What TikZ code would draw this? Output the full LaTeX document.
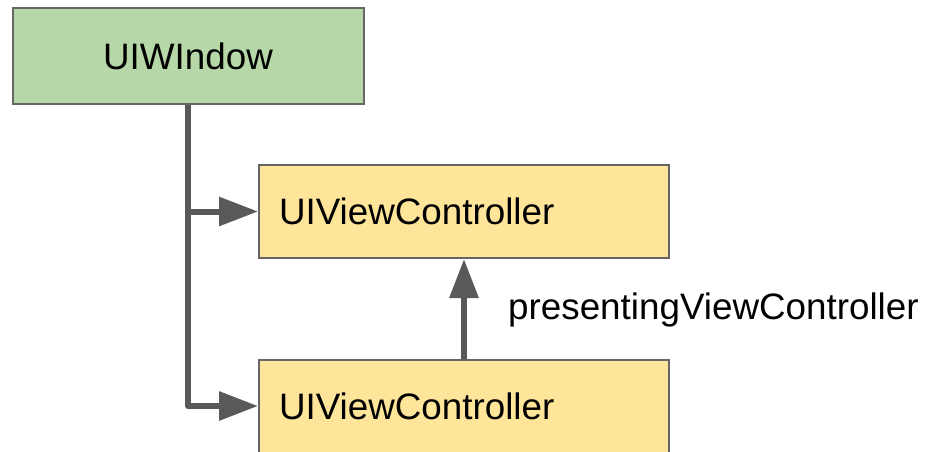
\documentclass[tikz,border=0pt]{standalone}
\usepackage{fontspec}
\setmainfont{Liberation Sans}
\usetikzlibrary{arrows.meta}

\definecolor{windowgreen}{HTML}{B6D7A8}
\definecolor{vcyellow}{HTML}{FFE599}
\definecolor{boxline}{HTML}{666666}
\definecolor{linkgray}{HTML}{595959}

\tikzset{
    box/.style={draw=boxline, line width=2pt, inner sep=0pt, font=\fontsize{36.8}{44}\selectfont},
    vcbox/.style={box, fill=vcyellow, minimum width=410pt, minimum height=93pt,
        text width=370pt, inner xsep=20pt, align=left},
    link/.style={draw=linkgray, line width=6pt, line join=round,
        -{Triangle[length=39pt,width=28pt]}}
}

\begin{document}
\begin{tikzpicture}[x=1pt,y=-1pt]
    \useasboundingbox (0,0) rectangle (930,452);
    \node[box, fill=windowgreen, minimum width=351pt, minimum height=96pt] (window) at (188,56) {UIWIndow};
    \node[vcbox] (vctop) at (464,211.5) {UIViewController};
    \node[vcbox] (vcbottom) at (464,406) {UIViewController};
    \node[font=\fontsize{36.8}{44}\selectfont, anchor=west, inner sep=0pt] (presenting) at (508,310) {presentingViewController};

    \draw[link] (window.south) |- (vcbottom.west);
    \draw[link] (window.south |- vctop.west) -- (vctop.west);
    \draw[link] (vcbottom.north) -- (vctop.south);
\end{tikzpicture}
\end{document}
